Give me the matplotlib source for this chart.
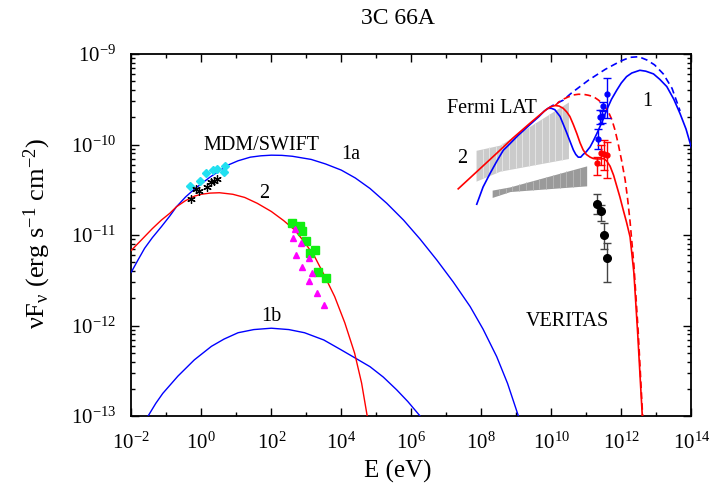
import numpy as np
import matplotlib
matplotlib.use('Agg')
import matplotlib.pyplot as plt
from matplotlib.ticker import FixedLocator, LogLocator, NullFormatter, FuncFormatter

plt.rcParams['font.family'] = ['Liberation Serif', 'DejaVu Serif']
plt.rcParams['mathtext.fontset'] = 'custom'
plt.rcParams['mathtext.rm'] = 'Liberation Serif'
plt.rcParams['mathtext.it'] = 'Liberation Serif:italic'
plt.rcParams['mathtext.default'] = 'regular'

# ---------------- data (log10 E [eV], log10 nuFnu [erg s^-1 cm^-2]) ----------------
# synchrotron model 1a (blue)
syn1a_logE = [-2.0, -1.8, -1.62, -1.4, -1.14, -0.9, -0.71, -0.45, -0.19, 0.25, 0.76, 1.05, 1.4, 1.7, 2.0,
              2.3, 2.6, 3.14, 3.55, 4.0, 4.4, 4.82, 5.3, 5.78, 6.25, 6.73, 7.2, 7.68, 8.05, 8.44, 8.75, 9.06]
syn1a_logF = [-11.41, -11.27, -11.147, -11.03, -10.908, -10.79, -10.688, -10.58, -10.49, -10.36, -10.228,
              -10.18, -10.14, -10.125, -10.118, -10.12, -10.13, -10.165, -10.215, -10.283, -10.37, -10.486,
              -10.65, -10.836, -11.045, -11.277, -11.52, -11.79, -12.04, -12.344, -12.64, -13.0]
# synchrotron model 1b (blue)
syn1b_logE = [-1.52, -1.3, -1.1, -0.67, -0.2, 0.29, 0.65, 1.05, 1.5, 2.0, 2.5, 2.95, 3.5, 4.0, 4.4, 4.82,
              5.2, 5.58, 5.9, 6.25]
syn1b_logF = [-13.0, -12.86, -12.75, -12.56, -12.38, -12.23, -12.15, -12.08, -12.045, -12.03, -12.045,
              -12.08, -12.16, -12.27, -12.36, -12.455, -12.57, -12.71, -12.84, -13.0]
# synchrotron model 2 (red)
syn2_logE = [-2.0, -1.8, -1.62, -1.4, -1.14, -0.9, -0.71, -0.45, -0.19, 0.0, 0.25, 0.52, 0.9, 1.24, 1.6,
             2.0, 2.35, 2.67, 2.95, 3.24, 3.52, 3.81, 4.1, 4.38, 4.58, 4.74]
syn2_logF = [-11.17, -11.09, -11.018, -10.93, -10.835, -10.76, -10.688, -10.62, -10.57, -10.55, -10.537,
             -10.533, -10.55, -10.585, -10.65, -10.74, -10.84, -10.945, -11.08, -11.24, -11.45, -11.68,
             -11.97, -12.305, -12.636, -13.0]
# inverse Compton model 1 (blue solid) and unabsorbed (blue dashed)
ic1_logE = [7.87, 8.05, 8.25, 8.45, 8.63, 8.73, 9.05, 9.39, 9.65, 9.8, 9.91, 10.0, 10.1, 10.25, 10.43,
            10.63, 10.70, 10.77, 10.84, 10.91, 11.0, 11.11, 11.2, 11.30, 11.44, 11.58, 11.72, 11.87, 12.0,
            12.15, 12.3, 12.53, 12.7, 12.92, 13.1, 13.30, 13.5, 13.68, 13.85, 14.0]
ic1_logF = [-10.66, -10.47, -10.32, -10.18, -10.063, -10.026, -9.90, -9.78, -9.69, -9.63, -9.60, -9.60,
            -9.615, -9.69, -9.86, -10.06, -10.11, -10.14, -10.14, -10.11, -10.08, -10.026, -9.96, -9.88,
            -9.76, -9.62, -9.50, -9.40, -9.32, -9.25, -9.21, -9.18, -9.19, -9.22, -9.28, -9.36, -9.50,
            -9.66, -9.83, -10.03]
ic1d_logE = [9.91, 10.1, 10.34, 10.58, 10.82, 11.06, 11.30, 11.54, 11.78, 12.0, 12.25, 12.5, 12.73, 12.95,
             13.2, 13.45, 13.68]
ic1d_logF = [-9.60, -9.555, -9.51, -9.43, -9.36, -9.29, -9.23, -9.17, -9.12, -9.075, -9.037, -9.03,
             -9.066, -9.12, -9.22, -9.38, -9.63]
# inverse Compton model 2 (red solid) and unabsorbed (red dashed)
ic2_logE = [7.34, 7.9, 8.44, 8.9, 9.39, 9.65, 9.87, 10.0, 10.11, 10.22, 10.34, 10.44, 10.53, 10.63, 10.73,
            10.82, 10.91, 11.0, 11.11, 11.2, 11.30, 11.4, 11.49, 11.58, 11.68, 11.78, 11.87, 11.96, 12.06,
            12.15, 12.25, 12.36, 12.47, 12.60]
ic2_logF = [-10.49, -10.29, -10.097, -9.93, -9.765, -9.68, -9.61, -9.58, -9.57, -9.575, -9.60, -9.64,
            -9.69, -9.78, -9.88, -9.98, -10.06, -10.11, -10.14, -10.155, -10.16, -10.16, -10.155, -10.18,
            -10.24, -10.34, -10.46, -10.58, -10.73, -10.86, -11.02, -11.42, -12.1, -13.0]
ic2d_logE = [10.11, 10.22, 10.34, 10.48, 10.63, 10.77, 10.91, 11.05, 11.20, 11.35, 11.49, 11.62, 11.73,
             11.82, 11.91, 12.01, 12.11, 12.18, 12.25, 12.36, 12.48, 12.61]
ic2d_logF = [-9.57, -9.53, -9.50, -9.475, -9.453, -9.445, -9.445, -9.455, -9.47, -9.51, -9.56, -9.63,
             -9.725, -9.84, -9.99, -10.18, -10.39, -10.6, -10.85, -11.33, -12.05, -13.0]

# Fermi LAT bow-ties
fermi2_logE = [7.85, 8.53, 10.49]
fermi2_top = [-10.064, -10.007, -9.53]
fermi2_bot = [-10.405, -10.295, -10.155]
fermi1_logE = [8.31, 8.82, 11.01]
fermi1_top = [-10.504, -10.468, -10.236]
fermi1_bot = [-10.585, -10.52, -10.457]

# MDM / SWIFT optical-UV
cyan_logE = [-0.314, -0.048, 0.133, 0.324, 0.438, 0.638, 0.676]
cyan_logF = [-10.456, -10.40, -10.32, -10.287, -10.276, -10.305, -10.235]
star_logE = [-0.305, -0.143, -0.076, 0.162, 0.286, 0.362, 0.457]
star_logF = [-10.603, -10.493, -10.51, -10.467, -10.41, -10.40, -10.38]
# X-ray
green_logE = [2.59, 2.82, 2.876, 3.0, 3.095, 3.257, 3.333, 3.562]
green_logF = [-10.871, -10.90, -10.956, -11.066, -11.195, -11.165, -11.41, -11.478]
mag_logE = [2.62, 2.667, 2.714, 2.857, 2.886, 3.076, 3.076, 3.171, 3.314, 3.505]
mag_logF = [-11.037, -10.9375, -11.22, -11.085, -11.357, -11.25, -11.507, -11.423, -11.643, -11.768]

# VERITAS: observed (black), deabsorbed model 1 (blue), model 2 (red)
ver_logE = [11.31, 11.41, 11.51, 11.59]
ver_logF = [-10.66, -10.73, -11.0, -11.25]
ver_lo = [-10.77, -10.85, -11.15, -11.52]
ver_hi = [-10.55, -10.67, -10.87, -11.09]
vb_logE = [11.33, 11.40, 11.45, 11.49, 11.59]
vb_logF = [-9.94, -9.70, -9.69, -9.58, -9.44]
vb_lo = [-10.05, -9.77, -9.76, -9.63, -9.71]
vb_hi = [-9.83, -9.62, -9.62, -9.53, -9.27]
vr_logE = [11.31, 11.41, 11.51, 11.58]
vr_logF = [-10.20, -10.09, -10.11, -10.12]
vr_lo = [-10.34, -10.23, -10.28, -10.375]
vr_hi = [-10.137, -10.0, -9.95, -9.97]

x_major = [-2, 0, 2, 4, 6, 8, 10, 12, 14]
x_minor = [-1, 1, 3, 5, 7, 9, 11, 13]
y_major = [-13, -12, -11, -10, -9]

BLUE = '#0000ff'
RED = '#ff0000'

def p(v):
    return 10.0 ** np.asarray(v, dtype=float)

fig = plt.figure(figsize=(7.16, 4.92), dpi=100)
ax = fig.add_axes([131.3 / 716, 1 - 416 / 492, 560 / 716, 362 / 492])
ax.set_xscale('log')
ax.set_yscale('log')
ax.set_xlim(1e-2, 1e14)
ax.set_ylim(1e-13, 1e-9)

# bow-ties with vertical stripes
def bowtie(logE, top, bot, color, stripe):
    e = np.linspace(logE[0], logE[-1], 200)
    t = np.interp(e, logE, top)
    b = np.interp(e, logE, bot)
    ax.fill_between(p(e), p(b), p(t), color=color, lw=0, zorder=1)
    xs = np.linspace(logE[0], logE[-1], 15)[1:-1]
    ax.vlines(p(xs), p(np.interp(xs, logE, bot)), p(np.interp(xs, logE, top)),
              colors=stripe, lw=0.7, zorder=1.1)

bowtie(fermi2_logE, fermi2_top, fermi2_bot, '#cbcbcb', '#e4e4e4')
bowtie(fermi1_logE, fermi1_top, fermi1_bot, '#9a9a9a', '#b4b4b4')

lw = 1.0
ax.plot(p(syn1a_logE), p(syn1a_logF), color=BLUE, lw=lw, zorder=3)
ax.plot(p(syn1b_logE), p(syn1b_logF), color=BLUE, lw=lw, zorder=3)
ax.plot(p(syn2_logE), p(syn2_logF), color=RED, lw=lw, zorder=3)
ax.plot(p(ic1_logE), p(ic1_logF), color=BLUE, lw=1.2, zorder=3)
ax.plot(p(ic1d_logE), p(ic1d_logF), color=BLUE, lw=1.2, ls=(0, (4, 2.5)), zorder=3)
ax.plot(p(ic2_logE), p(ic2_logF), color=RED, lw=1.2, zorder=3)
ax.plot(p(ic2d_logE), p(ic2d_logF), color=RED, lw=1.2, ls=(0, (4, 2.5)), zorder=3)

ax.plot(p(cyan_logE), p(cyan_logF), ls='none', marker='D', ms=4.5, color='#22e0f0', mec='#22e0f0', zorder=4)
ax.plot(p(star_logE), p(star_logF), ls='none', marker=(6, 2, 0), ms=6, color='black', mew=0.9, zorder=5)
ax.plot(p(green_logE), p(green_logF), ls='none', marker='s', ms=6, color='#11ee11', zorder=4)
ax.plot(p(mag_logE), p(mag_logF), ls='none', marker='^', ms=5, color='#ff00ff', zorder=4)

def errpts(le, lf, lo, hi, color, ecolor, ms):
    y = p(lf)
    ax.errorbar(p(le), y, yerr=[y - p(lo), p(hi) - y], fmt='o', color=color, ecolor=ecolor,
                ms=ms, elinewidth=1.0, capsize=3, capthick=1.0, zorder=5)

errpts(ver_logE, ver_logF, ver_lo, ver_hi, 'black', '#444444', 5.5)
errpts(vb_logE, vb_logF, vb_lo, vb_hi, BLUE, BLUE, 3.5)
errpts(vr_logE, vr_logF, vr_lo, vr_hi, RED, RED, 3.5)

# ticks
ax.xaxis.set_major_locator(FixedLocator([10.0 ** k for k in x_major]))
ax.xaxis.set_minor_locator(FixedLocator([10.0 ** k for k in x_minor]))
ax.yaxis.set_major_locator(FixedLocator([10.0 ** k for k in y_major]))
ax.yaxis.set_minor_locator(LogLocator(base=10, subs=np.arange(2, 10)))
fmt = FuncFormatter(lambda v, pos: r'$10^{%d}$' % int(round(np.log10(v))))
ax.xaxis.set_major_formatter(fmt)
ax.yaxis.set_major_formatter(fmt)
ax.xaxis.set_minor_formatter(NullFormatter())
ax.yaxis.set_minor_formatter(NullFormatter())
ax.tick_params(which='both', direction='in', top=True, right=True, labelsize=15, width=1.0)
ax.tick_params(which='major', length=5.5)
ax.tick_params(which='minor', length=3)
ax.tick_params(axis='x', which='major', pad=12)
ax.tick_params(axis='y', which='major', pad=11)
for s in ax.spines.values():
    s.set_linewidth(1.3)

# texts
fs = 14.5
ax.text(p(1.71), p(-10.01), 'MDM/SWIFT', fontsize=fs, ha='center', va='center')
ax.text(p(4.27), p(-10.11), '1a', fontsize=fs, ha='center', va='center')
ax.text(p(1.81), p(-10.54), '2', fontsize=fs, ha='center', va='center')
ax.text(p(2.0), p(-11.90), '1b', fontsize=fs, ha='center', va='center')
ax.text(p(8.30), p(-9.605), 'Fermi LAT', fontsize=fs, ha='center', va='center')
ax.text(p(7.44), p(-10.155), '2', fontsize=fs, ha='center', va='center')
ax.text(p(12.73), p(-9.53), '1', fontsize=fs, ha='center', va='center')
ax.text(p(10.45), p(-11.96), 'VERITAS', fontsize=fs, ha='center', va='center')

fig.text(398 / 716, 1 - 18 / 492, '3C 66A', fontsize=17, ha='center', va='center')
fig.text(398 / 716, 1 - 471 / 492, 'E (eV)', fontsize=18, ha='center', va='center')
fig.text(37 / 716, 1 - 233 / 492, 'νF$_{ν}$ (erg s$^{-1}$ cm$^{-2}$)', fontsize=19,
         ha='center', va='center', rotation=90)

fig.savefig('out.png', dpi=100)
